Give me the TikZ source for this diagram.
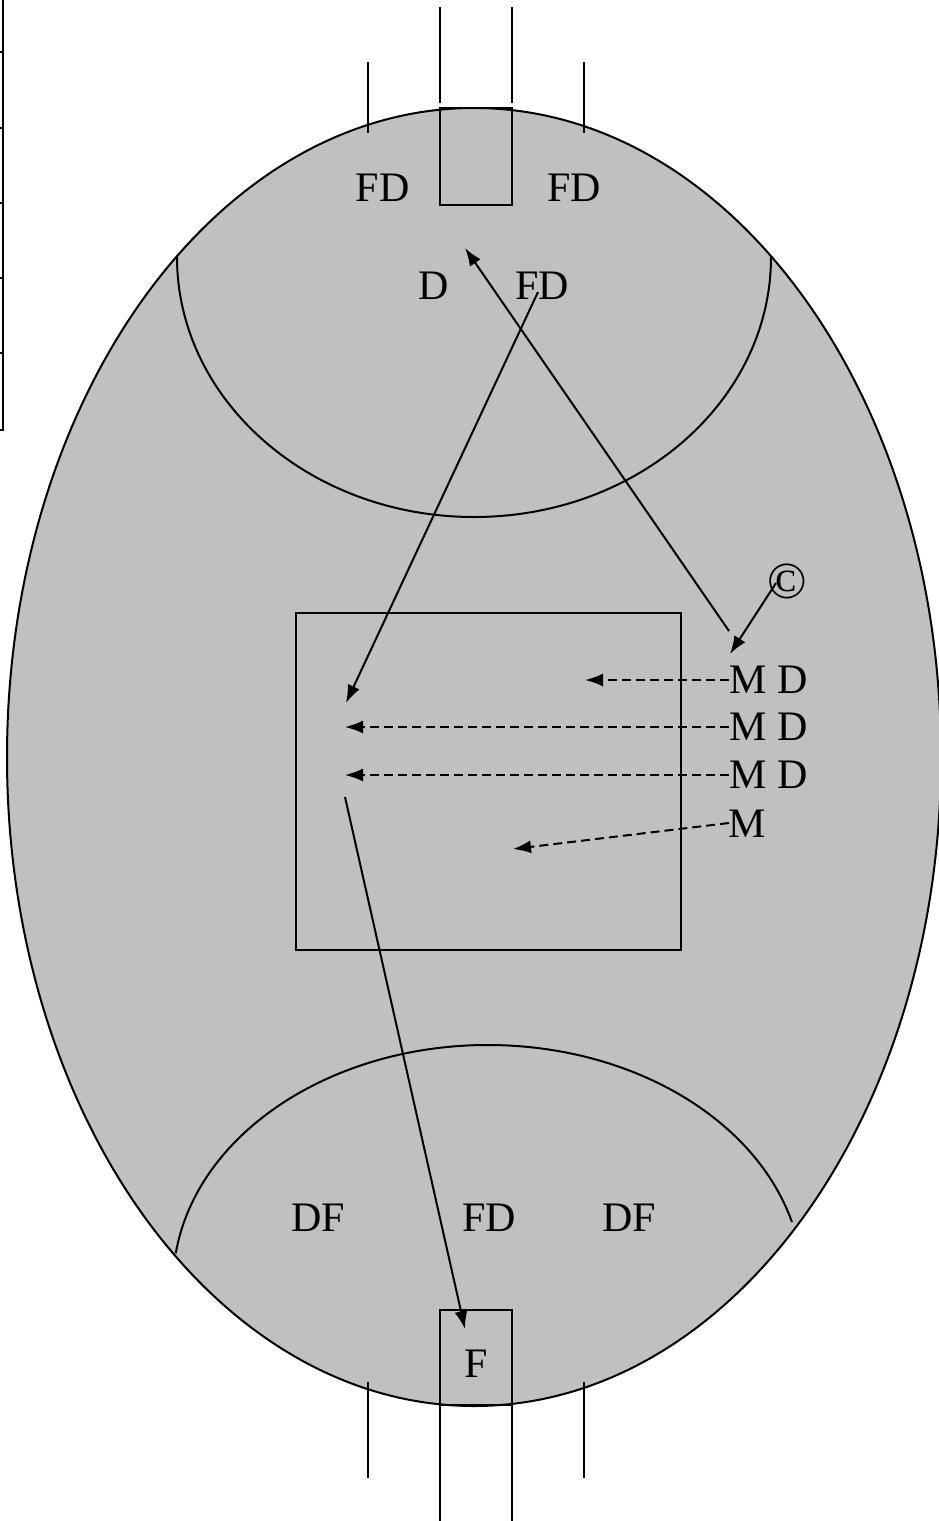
\documentclass[tikz,border=0pt]{standalone}
\usepackage{fontspec}
\setmainfont{Liberation Serif}
\usetikzlibrary{arrows.meta}
\begin{document}
\begin{tikzpicture}[x=1pt,y=-1pt,
  ln/.style={line width=2pt},
  lbl/.style={inner sep=0pt,font=\fontsize{42}{50}\selectfont},
  arr/.style={ln,-{Latex[length=18pt,width=13pt]}},
  darr/.style={arr,dash pattern=on 9pt off 5pt}]
\useasboundingbox (0,0) rectangle (938,1521);
\fill[white] (0,0) rectangle (938,1521);
% table remnant at left
\draw[ln] (3,0) -- (3,431);
\foreach \yy in {52,128,203,278,353,430} \draw[ln] (0,\yy) -- (3,\yy);
% ellipse
\draw[ln,fill={rgb,255:red,192;green,192;blue,192}] (474,757) ellipse [x radius=467, y radius=649];
% arcs
\draw[ln] (474,257) ++(180:297 and 260) arc[start angle=180,end angle=0,x radius=297,y radius=260];
\draw[ln] (488,1285) ++(187.6:315 and 240) arc[start angle=187.6,end angle=344.8,x radius=315,y radius=240];
% central rectangle
\draw[ln] (296,613) rectangle (681,950);
% boxes
\node[ln,draw,minimum width=72pt,minimum height=97pt,inner sep=0pt] (topbox) at (476,156.5) {};
\node[ln,draw,minimum width=72pt,minimum height=95pt,inner sep=0pt] (botbox) at (476,1357.5) {};
% stubs
\draw[ln] (440,7) -- (440,103);
\draw[ln] (512,7) -- (512,103);
\draw[ln] (368,62) -- (368,133);
\draw[ln] (584,62) -- (584,133);
\draw[ln] (440,1405) -- (440,1521);
\draw[ln] (512,1405) -- (512,1521);
\draw[ln] (368,1382) -- (368,1478);
\draw[ln] (584,1382) -- (584,1478);
% labels
\node[lbl] (fdA) at (382.5,187.5) {FD};
\node[lbl] (fdB) at (574,187.5) {FD};
\node[lbl] (dA) at (434,286) {D};
\node[lbl] (fdC) at (542,286) {FD};
\node[lbl,font=\fontsize{52}{60}\selectfont] (cp) at (787.5,581) {©};
\node[lbl] (md1) at (768.5,679.5) {M D};
\node[lbl] (md2) at (768.5,726.5) {M D};
\node[lbl] (md3) at (768.5,774.5) {M D};
\node[lbl] (m4) at (747,823.5) {M};
\node[lbl] (dfA) at (318,1218) {DF};
\node[lbl] (fdD) at (489,1218) {FD};
\node[lbl] (dfB) at (629,1218) {DF};
\node[lbl] (fF) at (476,1364) {F};
% arrow endpoints
\coordinate (s1) at (538,292);
\coordinate (t1) at (346,703);
\coordinate (s2) at (729,631);
\coordinate (t2) at (465,248);
\coordinate (s3) at (776,583);
\coordinate (t3) at (730,654);
\coordinate (s4) at (729,680);
\coordinate (t4) at (585,680);
\coordinate (s5) at (729,727);
\coordinate (t5) at (345,727);
\coordinate (s6) at (729,775);
\coordinate (t6) at (345,775);
\coordinate (s7) at (729,823);
\coordinate (t7) at (513,849);
\coordinate (s8) at (345,797);
\coordinate (t8) at (465,1329);
% arrows
\draw[arr] (s1) -- (t1);
\draw[arr] (s2) -- (t2);
\draw[arr] (s3) -- (t3);
\draw[darr] (s4) -- (t4);
\draw[darr] (s5) -- (t5);
\draw[darr] (s6) -- (t6);
\draw[darr] (s7) -- (t7);
\draw[arr] (s8) -- (t8);
\end{tikzpicture}
\end{document}
